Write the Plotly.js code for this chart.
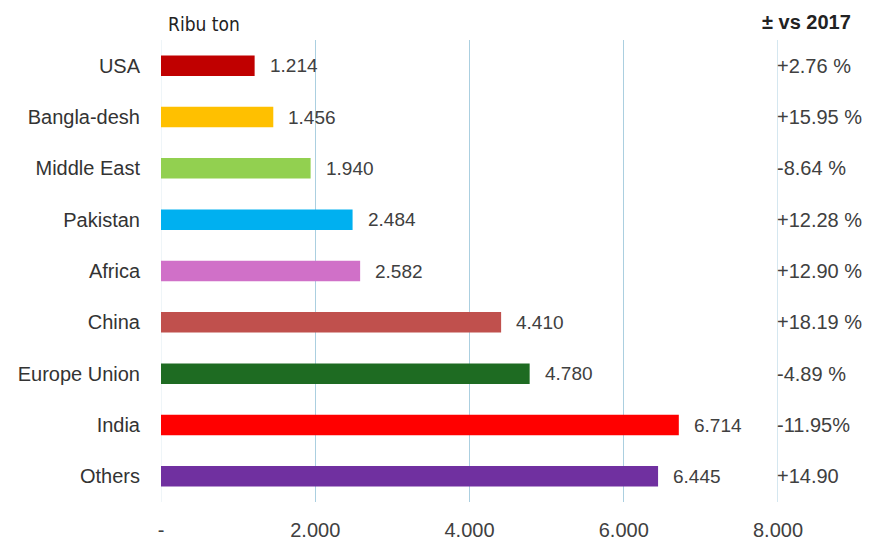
<!DOCTYPE html>
<html>
<head>
<meta charset="utf-8">
<script src="https://cdn.plot.ly/plotly-3.0.1.min.js"></script>
<style>html,body{margin:0;padding:0;background:#fff;}#chart{width:869px;height:557px;}</style>
</head>
<body>
<div id="chart"></div>
<script>
const categories = ["USA", "Bangla-desh", "Middle East", "Pakistan", "Africa", "China", "Europe Union", "India", "Others"];
const values = [1214, 1456, 1940, 2484, 2582, 4410, 4780, 6714, 6445];
const changes = ["+2.76 %", "+15.95 %", "-8.64 %", "+12.28 %", "+12.90 %", "+18.19 %", "-4.89 %", "-11.95%", "+14.90"];
const barColors = ["#C00000", "#FFC000", "#92D050", "#00B0F0", "#D070C8", "#C0504D", "#1E6B22", "#FF0000", "#7030A0"];
const tickVals = [0, 2000, 4000, 6000, 8000];
const tickText = ["-", "2.000", "4.000", "6.000", "8.000"];

const fmt = v => String(v).replace(/\B(?=(\d{3})+(?!\d))/g, ".");
const FONT = "Liberation Sans, Arial, sans-serif";

const trace = {
  type: "bar",
  orientation: "h",
  x: values,
  y: categories,
  width: 0.4,
  marker: { color: barColors, line: { width: 0 } },
  hoverinfo: "skip"
};

const annotations = [];
categories.forEach((c, i) => {
  annotations.push({
    x: values[i], y: c, xref: "x", yref: "y",
    text: fmt(values[i]), showarrow: false,
    xanchor: "left", yanchor: "middle", xshift: 13,
    font: { family: FONT, size: 19, color: "#404040" }
  });
  annotations.push({
    x: 1, y: c, xref: "paper", yref: "y",
    text: changes[i], showarrow: false,
    xanchor: "left", yanchor: "middle", xshift: -3,
    font: { family: FONT, size: 20, color: "#404040" }
  });
});
annotations.push(
  { xref: "paper", yref: "paper", x: (204 - 161) / 617, y: 1 + (40 - 24) / 462,
    text: "Ribu ton", showarrow: false, xanchor: "center", yanchor: "middle",
    font: { family: "Liberation Sans Narrow, DejaVu Sans Condensed, Liberation Sans, sans-serif", size: 19, color: "#222" } },
  { xref: "paper", yref: "paper", x: (806 - 161) / 617, y: 1 + (40 - 22) / 462,
    text: "<b>± vs 2017</b>", showarrow: false, xanchor: "center", yanchor: "middle",
    font: { family: FONT, size: 20, color: "#222" } }
);

const layout = {
  width: 869, height: 557,
  margin: { l: 161, r: 91, t: 40, b: 55 },
  paper_bgcolor: "#fff", plot_bgcolor: "#fff",
  separators: ",.",
  showlegend: false,
  xaxis: {
    range: [0, 8000],
    tickmode: "array", tickvals: tickVals, ticktext: tickText,
    showgrid: true, gridcolor: "#ABCFE0", gridwidth: 1,
    zeroline: false, showline: false,
    ticks: "", ticklabelstandoff: 14,
    tickfont: { family: FONT, size: 20, color: "#404040" },
    fixedrange: true
  },
  yaxis: {
    autorange: "reversed",
    showgrid: false, zeroline: false, showline: false,
    ticks: "", ticklabelstandoff: 20,
    tickfont: { family: FONT, size: 20, color: "#333" },
    fixedrange: true
  },
  shapes: [
    { type: "line", xref: "x", yref: "paper", x0: 0, x1: 0, y0: 0, y1: 1,
      line: { color: "#E0ECF2", width: 1 }, layer: "below" },
    { type: "line", xref: "x", yref: "paper", x0: 8000, x1: 8000, y0: 0, y1: 1,
      line: { color: "#ABCFE0", width: 1 }, layer: "below" }
  ],
  annotations: annotations
};

Plotly.newPlot("chart", [trace], layout, { displayModeBar: false, staticPlot: true });
</script>
</body>
</html>
